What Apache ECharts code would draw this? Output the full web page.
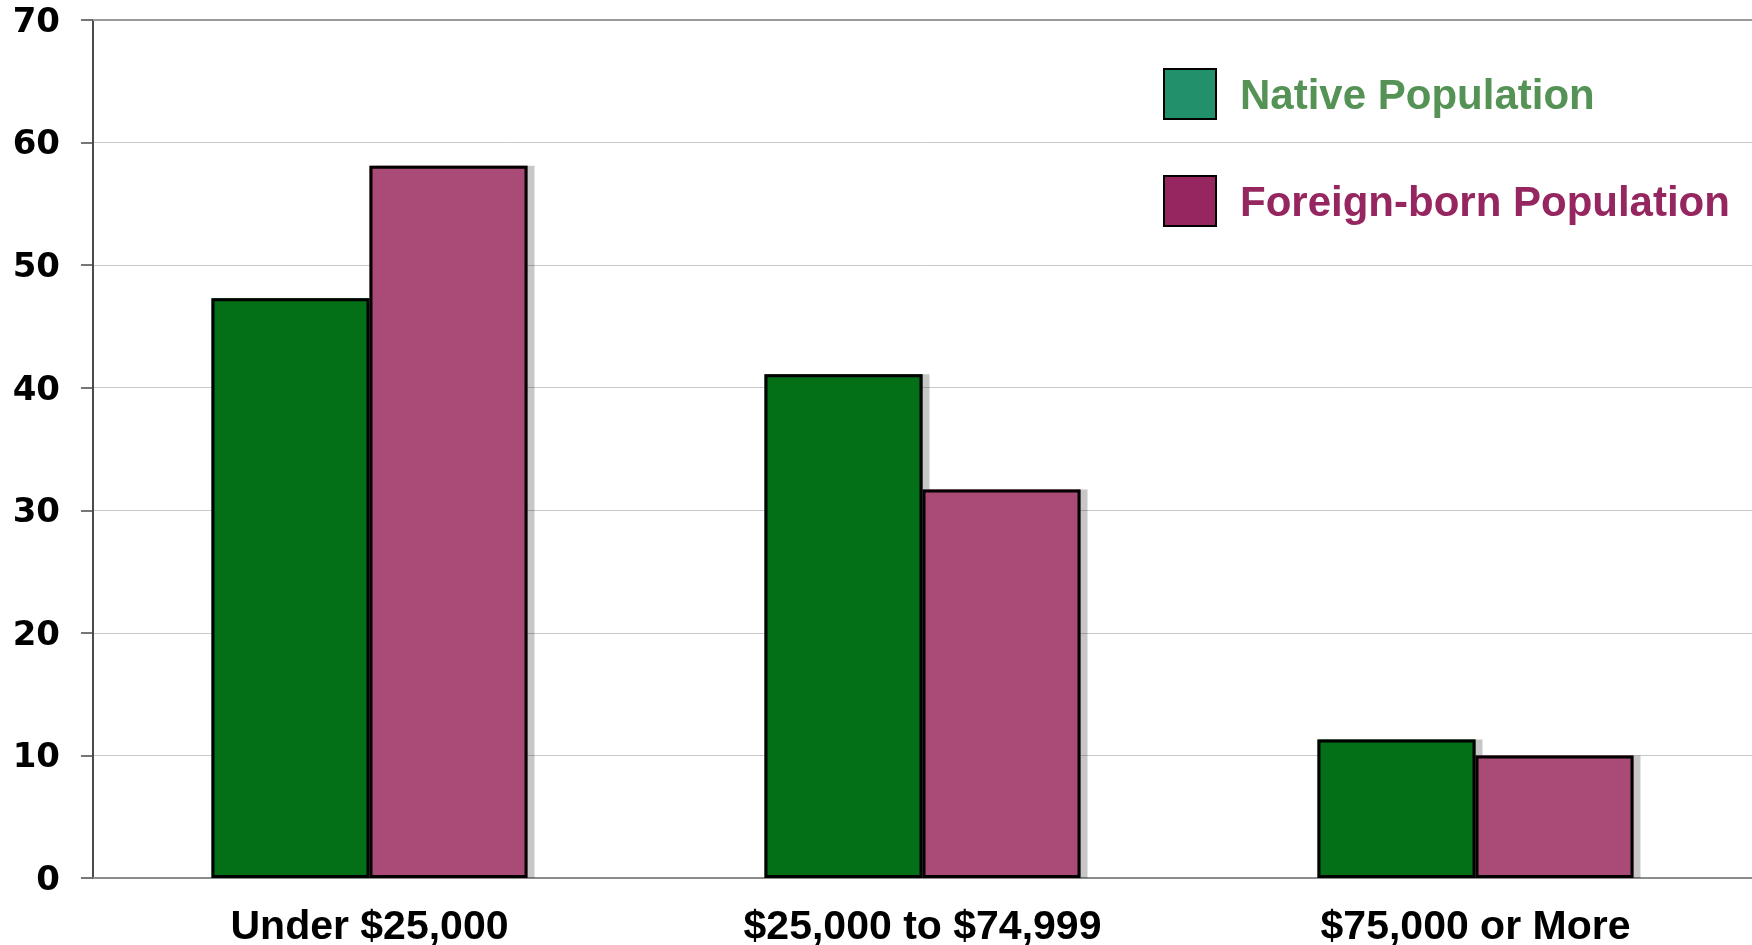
<!DOCTYPE html>
<html>
<head>
<meta charset="utf-8">
<script src="https://cdn.jsdelivr.net/npm/echarts@6/dist/echarts.min.js"></script>
<style>
  html, body { margin: 0; padding: 0; background: #fff; }
  #chart { width: 1752px; height: 945px; }
</style>
</head>
<body>
<div id="chart"></div>
<script>
const categories = ['Under $25,000', '$25,000 to $74,999', '$75,000 or More'];
const nativeValues = [47.3, 41.1, 11.3];
const foreignValues = [58.1, 31.7, 10.0];
const yTicks = [0, 10, 20, 30, 40, 50, 60, 70];

const font = "'Liberation Sans', Arial, sans-serif";
const wideFont = "'DejaVu Sans', sans-serif";

// fills carry the drop shadow, outlines are drawn on top without it
const fillStyle = (color) => ({
  color: color,
  shadowColor: 'rgba(0,0,0,0.22)',
  shadowOffsetX: 7,
  shadowOffsetY: 0,
  shadowBlur: 0
});
const outlineStyle = { color: 'transparent', borderColor: '#000', borderWidth: 3 };

let myChart = echarts.init(document.getElementById('chart'));

myChart.setOption({
  animation: false,
  grid: {
    left: 93,
    right: 0,
    top: 20,
    bottom: 67,
    outerBoundsMode: 'none'
  },
  legend: {
    orient: 'vertical',
    left: 1158,
    top: 63,
    itemWidth: 52,
    itemHeight: 50,
    itemGap: 55,
    icon: 'rect',
    selectedMode: false,
    formatter: '{t|{name}}',
    textStyle: {
      fontFamily: font,
      fontSize: 42,
      fontWeight: 'bold',
      padding: [0, 0, 0, 19],
      rich: {
        t: { fontFamily: font, fontSize: 42, fontWeight: 'bold', padding: [7, 0, 0, 0] }
      }
    },
    data: [
      {
        name: 'Native Population',
        itemStyle: { color: '#23906C', borderColor: '#000', borderWidth: 2 },
        textStyle: { color: '#559255' }
      },
      {
        name: 'Foreign-born Population',
        itemStyle: { color: '#952660', borderColor: '#000', borderWidth: 2 },
        textStyle: { color: '#952660' }
      }
    ]
  },
  xAxis: [
    {
      type: 'category',
      data: categories,
      axisLine: { lineStyle: { color: '#8c8c8c', width: 2 } },
      axisTick: { show: false },
      axisLabel: {
        margin: 29,
        fontFamily: font,
        fontSize: 41,
        fontWeight: 'bold',
        color: '#000'
      }
    },
    {
      type: 'category',
      position: 'top',
      data: categories,
      axisLine: { lineStyle: { color: '#999', width: 2 } },
      axisTick: { show: false },
      axisLabel: { show: false }
    }
  ],
  yAxis: {
    type: 'value',
    min: yTicks[0],
    max: yTicks[yTicks.length - 1],
    interval: 10,
    axisLine: { show: true, lineStyle: { color: '#4a4a4a', width: 2 } },
    axisTick: { show: true, length: 12, lineStyle: { color: '#4a4a4a', width: 1.5 } },
    axisLabel: {
      margin: 33,
      formatter: '{v|{value}}',
      rich: {
        v: {
          fontFamily: wideFont,
          fontSize: 34,
          fontWeight: 'bold',
          color: '#000',
          padding: [6, 0, 0, 0]
        }
      }
    },
    splitLine: { lineStyle: { color: '#c8c8c8', width: 1 } }
  },
  series: [
    {
      name: 'Native Population',
      type: 'bar',
      data: nativeValues,
      barWidth: 158,
      barGap: '0%',
      itemStyle: fillStyle('#037017')
    },
    {
      name: 'Foreign-born Population',
      type: 'bar',
      data: foreignValues,
      barWidth: 158,
      barGap: '0%',
      itemStyle: fillStyle('#AA4A77')
    },
    {
      name: 'native-outline',
      type: 'bar',
      xAxisIndex: 1,
      data: nativeValues,
      barWidth: 158,
      barGap: '0%',
      silent: true,
      itemStyle: outlineStyle
    },
    {
      name: 'foreign-outline',
      type: 'bar',
      xAxisIndex: 1,
      data: foreignValues,
      barWidth: 158,
      barGap: '0%',
      silent: true,
      itemStyle: outlineStyle
    }
  ]
});
</script>
</body>
</html>
